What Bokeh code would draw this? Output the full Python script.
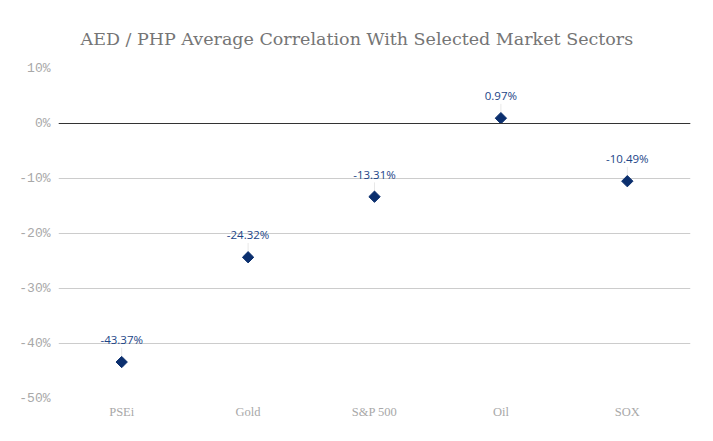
from bokeh.plotting import figure
from bokeh.models import ColumnDataSource, FixedTicker, PrintfTickFormatter, Span, Range1d, FactorRange
from bokeh.core.properties import value
from bokeh.embed import file_html
from bokeh.resources import INLINE
import math

title_text = "AED / PHP Average Correlation With Selected Market Sectors"
categories = ["PSEi", "Gold", "S&P 500", "Oil", "SOX"]
correlations = [-43.37, -24.32, -13.31, 0.97, -10.49]
y_ticks = [10, 0, -10, -20, -30, -40, -50]

labels = ["%.2f%%" % v for v in correlations]
src = ColumnDataSource(dict(cat=categories, val=correlations, lab=labels,
                            top=[v + 2.6 for v in correlations]))

p = figure(width=713, height=441, output_backend="svg", toolbar_location=None,
           x_range=FactorRange(*categories), y_range=Range1d(-50, 10),
           min_border_left=58, min_border_right=23, min_border_top=68, min_border_bottom=43,
           title=title_text)
p.outline_line_color = None
p.background_fill_color = "white"
p.border_fill_color = "white"

p.title.align = "left"
p.title.offset = 22
p.title.standoff = 40
p.title.text_font = "DejaVu Serif"
p.title.text_font_style = "normal"
p.title.text_font_size = "17.5px"
p.title.text_color = "#757575"

p.xgrid.grid_line_color = None
p.ygrid.grid_line_color = "#cccccc"
p.ygrid.grid_line_width = 1

p.yaxis.ticker = FixedTicker(ticks=y_ticks)
p.yaxis.formatter = PrintfTickFormatter(format="%d%%")
for ax in (p.xaxis, p.yaxis):
    ax.axis_line_color = None
    ax.major_tick_line_color = None
    ax.minor_tick_line_color = None
    ax.major_label_text_color = "#a8a8a8"
p.yaxis.major_label_text_font = "Liberation Mono"
p.yaxis.major_label_text_font_size = "13px"
p.xaxis.major_label_text_font = "Liberation Serif"
p.xaxis.major_label_text_font_size = "12.5px"
p.xaxis.major_label_standoff = 0
p.yaxis.major_label_standoff = 2

p.add_layout(Span(location=0, dimension="width", line_color="#333333", line_width=1))

p.segment(x0="cat", x1="cat", y0="val", y1="top", source=src, line_color="#e8e8e8", line_width=1)
p.scatter(x="cat", y="val", source=src, marker="square", size=8, angle=math.pi / 4,
          fill_color="#0b2f6e", line_color="#0b2f6e")
p.text(x="cat", y="val", text="lab", source=src, y_offset=-15,
       text_align="center", text_baseline="bottom", text_font_size="11.5px",
       text_font=value("Open Sans"), text_color="#1c4587")

open("out.html", "w").write(file_html(p, INLINE))
